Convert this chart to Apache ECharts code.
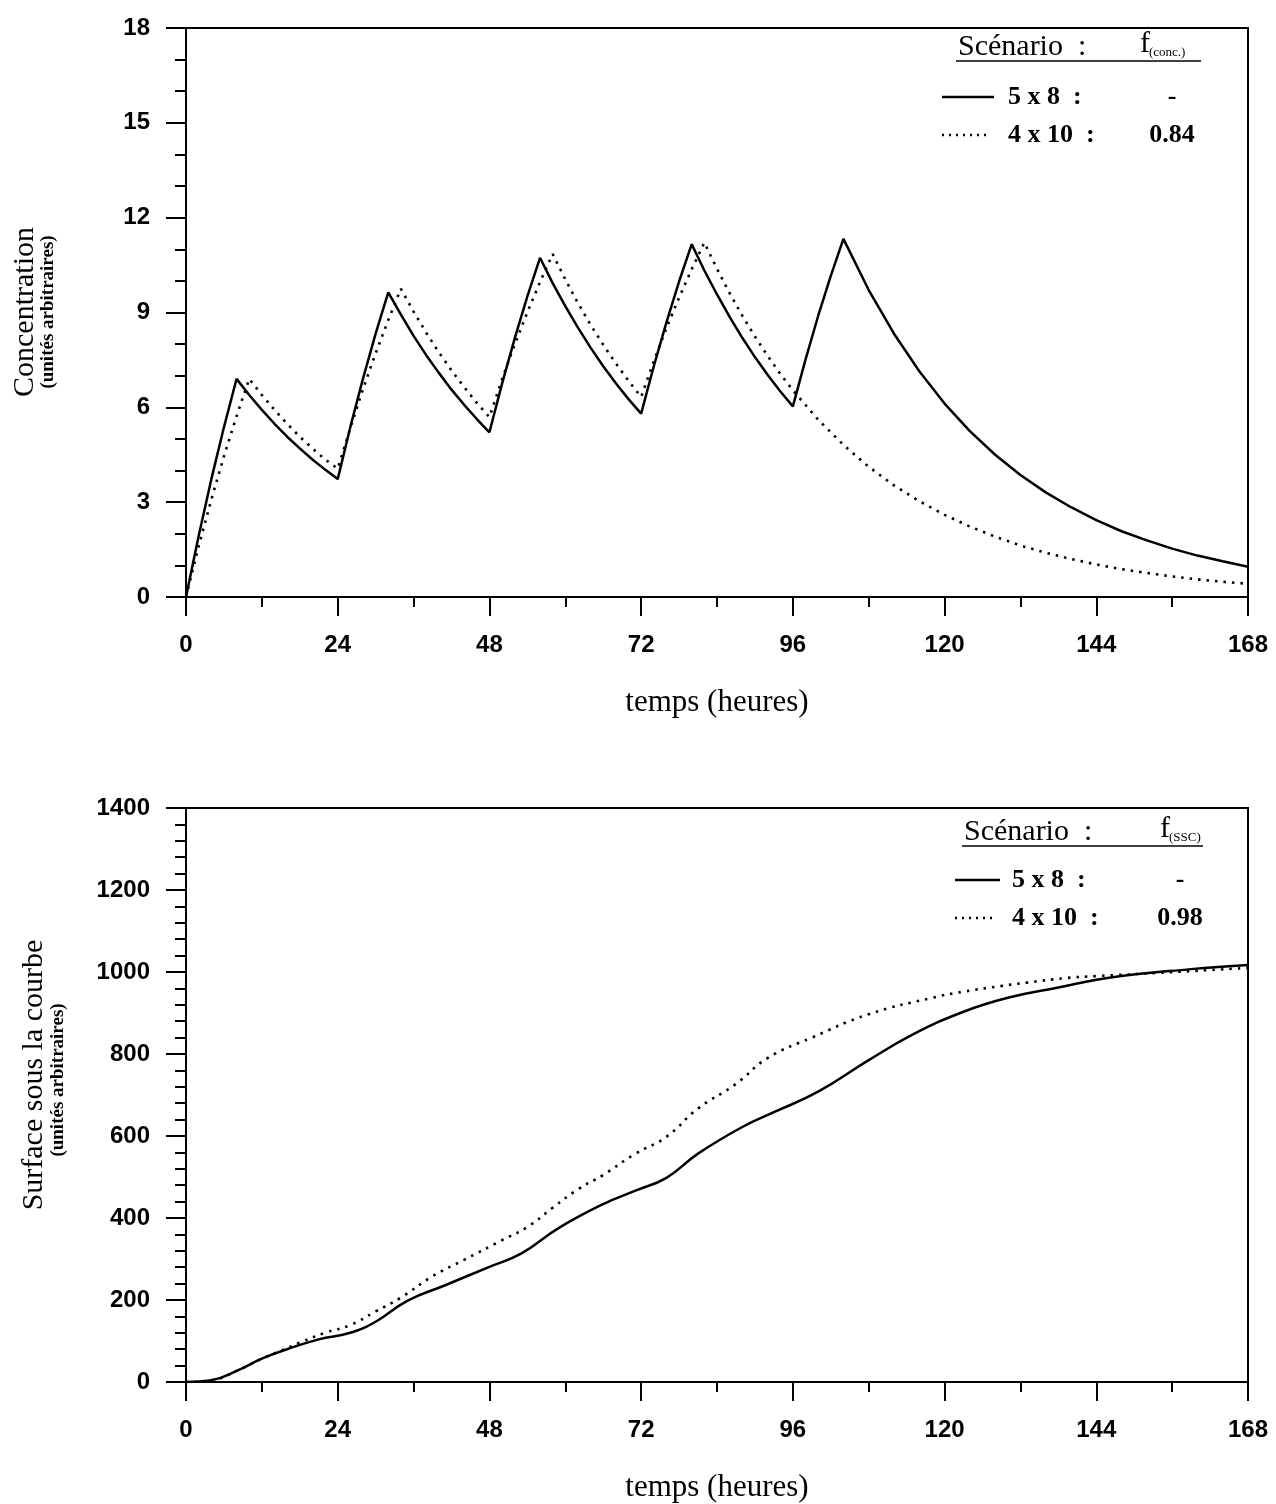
<!DOCTYPE html>
<html><head><meta charset="utf-8">
<script src="https://cdn.jsdelivr.net/npm/echarts@6/dist/echarts.min.js"></script>
<style>html,body{margin:0;padding:0;background:#fff}#c{width:1276px;height:1504px}</style>
</head><body><div id="c"></div>
<script>
// ---- Top chart: concentration vs time ----
const xTicks = [0, 24, 48, 72, 96, 120, 144, 168];
const concTime5x8 = [0,2,4,6,8,10,12,14,16,18,20,22,24,26,28,30,32,34,36,38,40,42,44,46,48,50,52,54,56,58,60,62,64,66,68,70,72,74,76,78,80,82,84,86,88,90,92,94,96,98,100,102,104,108,112,116,120,124,128,132,136,140,144,148,152,156,160,164,168];
const conc5x8 = [0,1.93,3.72,5.37,6.90,6.39,5.92,5.48,5.07,4.70,4.35,4.03,3.73,5.38,6.91,8.33,9.64,8.93,8.26,7.65,7.09,6.56,6.08,5.63,5.21,6.75,8.18,9.51,10.73,9.93,9.20,8.52,7.89,7.30,6.76,6.26,5.80,7.30,8.69,9.98,11.16,10.33,9.57,8.86,8.20,7.59,7.03,6.51,6.03,7.51,8.89,10.16,11.33,9.71,8.33,7.14,6.12,5.25,4.50,3.86,3.31,2.84,2.43,2.08,1.79,1.53,1.31,1.13,0.96];
const concTime4x10 = [0,2,4,6,8,10,12,14,16,18,20,22,24,26,28,30,32,34,36,38,40,42,44,46,48,50,52,54,56,58,60,62,64,66,68,70,72,74,76,78,80,82,84,86,88,90,92,94,96,100,104,108,112,116,120,124,128,132,136,140,144,148,152,156,160,164,168];
const conc4x10 = [0,1.60,3.08,4.45,5.72,6.90,6.39,5.92,5.48,5.07,4.70,4.35,4.06,5.35,6.58,7.71,8.76,9.75,9.03,8.36,7.74,7.17,6.64,6.14,5.69,6.89,7.99,9.01,9.96,10.85,10.05,9.30,8.61,7.98,7.39,6.84,6.33,7.46,8.51,9.47,10.37,11.21,10.38,9.61,8.90,8.24,7.63,7.06,6.54,5.61,4.81,4.12,3.53,3.03,2.60,2.23,1.91,1.63,1.40,1.20,1.03,0.88,0.76,0.65,0.56,0.48,0.42];

// ---- Bottom chart: area under the curve ----
const aucTime5x8 = [0,4,8,12,16,21,26,30,35,41,48,53,59,66,71,76,81,88,93,100,108,115,123,130,138,146,159,168];
const auc5x8 = [0,4,27,57,80,104,120,147,198,236,281,313,376,434,466,498,557,622,658,708,785,848,903,937,962,986,1007,1017];
const aucTime4x10 = [0,4,8,12,15,18,22,26,30,34,39,44,50,54,58,62,66,71,76,81,87,92,99,108,118,123,129,133,139,144,154,168];
const auc4x10 = [0,4,27,57,76,96,120,139,172,206,258,298,346,378,425,470,505,556,598,667,727,790,840,897,937,952,966,974,985,990,998,1010];

const legendTop = {title: 'Scénario  :', fsub: '(conc.)', rows: [['5 x 8  :', '-'], ['4 x 10  :', '0.84']]};
const legendBottom = {title: 'Scénario  :', fsub: '(SSC)', rows: [['5 x 8  :', '-'], ['4 x 10  :', '0.98']]};

const pairs = (t, v) => t.map((x, i) => [x, v[i]]);
const SERIF = '"Liberation Serif", "Times New Roman", serif';
const SANS = '"Liberation Sans", Arial, sans-serif';
const DOT = [2.5, 6];

function xAxis(gi) {
  return {
    gridIndex: gi, type: 'value', min: 0, max: 168, interval: 24,
    axisLine: {lineStyle: {color: '#000', width: 2}},
    axisTick: {length: 19, lineStyle: {color: '#000', width: 2}},
    minorTick: {show: true, splitNumber: 2, length: 10, lineStyle: {color: '#000', width: 2}},
    splitLine: {show: false}, minorSplitLine: {show: false},
    axisLabel: {margin: 36, color: '#000', fontFamily: SANS, fontWeight: 'bold', fontSize: 24,
      formatter: v => xTicks.includes(v) ? String(v) : ''}
  };
}
function yAxis(gi, max, interval, minor) {
  return {
    gridIndex: gi, type: 'value', min: 0, max: max, interval: interval,
    axisLine: {show: true, lineStyle: {color: '#000', width: 2}},
    axisTick: {show: true, length: 20, lineStyle: {color: '#000', width: 2}},
    minorTick: {show: true, splitNumber: minor, length: 11, lineStyle: {color: '#000', width: 2}},
    splitLine: {show: false}, minorSplitLine: {show: false},
    axisLabel: {margin: 36, color: '#000', fontFamily: SANS, fontWeight: 'bold', fontSize: 24,
      formatter: v => String(v)}
  };
}
function line(name, xi, data, dotted, smooth) {
  return {
    name: name, type: 'line', xAxisIndex: xi, yAxisIndex: xi, data: data,
    showSymbol: false, symbol: 'none', smooth: smooth || false,
    lineStyle: {color: '#000', width: dotted ? 2.6 : 2.5, type: dotted ? DOT : 'solid'},
    z: dotted ? 2 : 3
  };
}
function txt(x, y, text, font, align, valign, rot) {
  return {type: 'text', x: x, y: y, rotation: rot || 0, z: 100,
    style: {text: text, x: 0, y: 0, font: font, fill: '#000', textAlign: align || 'left', textVerticalAlign: valign || 'middle'}};
}
function seg(x1, y1, x2, y2, dash, w) {
  return {type: 'line', z: 100, shape: {x1: x1, y1: y1, x2: x2, y2: y2},
    style: {stroke: '#000', lineWidth: w || 2.5, lineDash: dash || null}};
}
function legendGraphics(L, x0, yTitle, fx, sampleX1, sampleX2, textX, valX, yRow1, yRow2, ulX2) {
  return [
    txt(x0, yTitle, L.title, '30px ' + SERIF, 'left', 'middle'),
    txt(fx, yTitle + 12, 'f', '30px ' + SERIF, 'left', 'bottom'),
    txt(fx + 9, yTitle + 12, L.fsub, '13px ' + SERIF, 'left', 'bottom'),
    seg(x0 - 2, yTitle + 14, ulX2, yTitle + 14, null, 1.6),
    seg(sampleX1, yRow1, sampleX2, yRow1, null, 2.5),
    seg(sampleX1, yRow2, sampleX2 - 4, yRow2, [2, 5], 2.4),
    txt(textX, yRow1, L.rows[0][0], 'bold 26px ' + SERIF, 'left', 'middle'),
    txt(textX, yRow2, L.rows[1][0], 'bold 26px ' + SERIF, 'left', 'middle'),
    txt(valX, yRow1, L.rows[0][1], 'bold 26px ' + SERIF, 'center', 'middle'),
    txt(valX, yRow2, L.rows[1][1], 'bold 26px ' + SERIF, 'center', 'middle')
  ];
}

const chart = echarts.init(document.getElementById('c'), null, {renderer: 'canvas'});
chart.setOption({
  animation: false,
  backgroundColor: '#fff',
  grid: [
    {left: 186, right: 28, top: 28, height: 569, show: true, borderColor: '#000', borderWidth: 2, containLabel: false, outerBoundsMode: 'none'},
    {left: 186, right: 28, top: 808, height: 574, show: true, borderColor: '#000', borderWidth: 2, containLabel: false, outerBoundsMode: 'none'}
  ],
  xAxis: [xAxis(0), xAxis(1)],
  yAxis: [yAxis(0, 18, 3, 3), yAxis(1, 1400, 200, 5)],
  series: [
    line('5 x 8', 0, pairs(concTime5x8, conc5x8), false),
    line('4 x 10', 0, pairs(concTime4x10, conc4x10), true),
    line('5 x 8 ', 1, pairs(aucTime5x8, auc5x8), false, 0.45),
    line('4 x 10 ', 1, pairs(aucTime4x10, auc4x10), true, 0.45)
  ],
  graphic: [].concat(
    [
      txt(25, 312, 'Concentration', '30px ' + SERIF, 'center', 'middle', Math.PI / 2),
      txt(48, 312, '(unités arbitraires)', 'bold 19px ' + SERIF, 'center', 'middle', Math.PI / 2),
      txt(717, 703, 'temps (heures)', '31px ' + SERIF, 'center', 'middle'),
      txt(34, 1075, 'Surface sous la courbe', '30px ' + SERIF, 'center', 'middle', Math.PI / 2),
      txt(58, 1080, '(unités arbitraires)', 'bold 19px ' + SERIF, 'center', 'middle', Math.PI / 2),
      txt(717, 1488, 'temps (heures)', '31px ' + SERIF, 'center', 'middle')
    ],
    legendGraphics(legendTop, 958, 47, 1140, 942, 994, 1008, 1172, 97, 135, 1201),
    legendGraphics(legendBottom, 964, 832, 1160, 955, 1000, 1012, 1180, 880, 918, 1203)
  )
});
</script></body></html>
